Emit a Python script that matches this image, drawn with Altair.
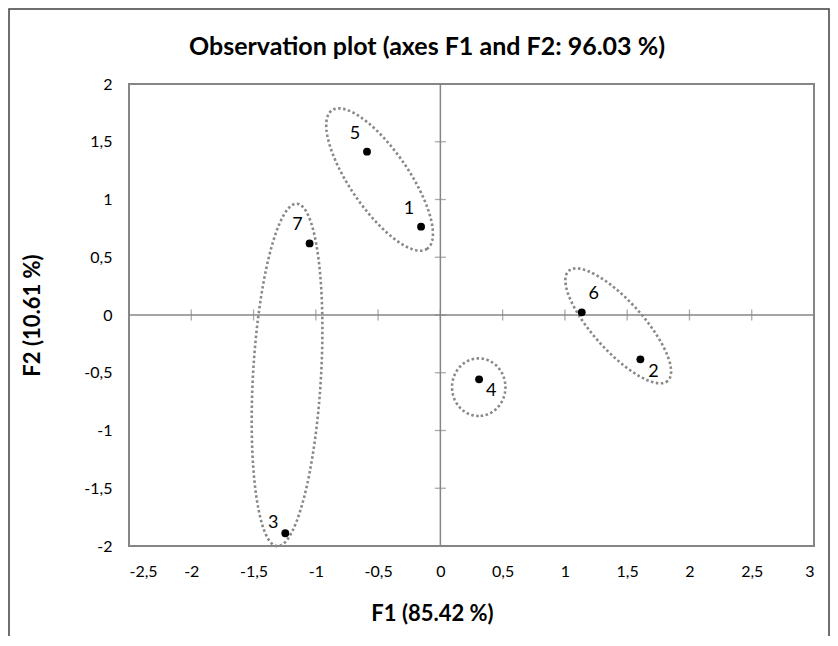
import altair as alt
import numpy as np
import pandas as pd

# ---- data ----
obs = ["1", "2", "3", "4", "5", "6", "7"]
f1 = [-0.155, 1.606, -1.245, 0.311, -0.589, 1.135, -1.05]
f2 = [0.765, -0.384, -1.89, -0.557, 1.414, 0.023, 0.62]

x_ticks = [-2.5, -2, -1.5, -1, -0.5, 0, 0.5, 1, 1.5, 2, 2.5, 3]
y_ticks = [-2, -1.5, -1, -0.5, 0, 0.5, 1, 1.5, 2]

chart_title = ["Observation plot (axes F1 and F2: 96.03 %)"]

# grouping ellipses (annotations): centre in data units
ell_name = ["1-5", "3-7", "4", "2-6"]
ell_cx = [-0.488, -1.231, 0.308, 1.428]
ell_cy = [1.173, -0.519, -0.625, -0.094]

# ---- layout / style ----
W, H = 685, 462
XD, YD = [-2.5, 3], [-2, 2]
PX = W / (XD[1] - XD[0])
PY = H / (YD[1] - YD[0])
FONT = "Lato"
GRAY = "#868686"

# ellipse shape in screen pixels: semi-axes and rotation (deg, y down)
ell_a = [84, 171.5, 28.8, 74]
ell_b = [29.3, 34, 26.7, 25]
ell_ang = [55.5, 93.3, 90, 48]

rows = []
phi = np.linspace(0, 2 * np.pi, 181)
for n, cx, cy, a, b, t in zip(ell_name, ell_cx, ell_cy, ell_a, ell_b, ell_ang):
    th = np.radians(t)
    px = a * np.cos(phi) * np.cos(th) - b * np.sin(phi) * np.sin(th)
    py = a * np.cos(phi) * np.sin(th) + b * np.sin(phi) * np.cos(th)
    for i, (u, v) in enumerate(zip(px, py)):
        rows.append({"ell": n, "i": i, "x": cx + u / PX, "y": cy - v / PY})
ell_df = pd.DataFrame(rows)

# label offsets (pixels)
lab_off = {"1": (-12, -18), "2": (13, 13), "3": (-12, -10), "4": (12, 12),
           "5": (-12, -18), "6": (12, -18), "7": (-12, -18)}
pts = pd.DataFrame({"obs": obs, "F1": f1, "F2": f2})
pts["lx"] = [x + lab_off[o][0] / PX for o, x in zip(obs, f1)]
pts["ly"] = [y - lab_off[o][1] / PY for o, y in zip(obs, f2)]

xs = alt.Scale(domain=XD, nice=False, zero=False)
ys = alt.Scale(domain=YD, nice=False, zero=False)

label_expr = "replace(toString(datum.value), '.', ',')"
xaxis = alt.Axis(values=x_ticks, labelExpr=label_expr, grid=False, domain=False,
                 ticks=False, labelPadding=17, labelFontSize=16, labelFont=FONT,
                 labelColor="#000", title="F1 (85.42 %)", titleFont=FONT,
                 titleFontSize=22, titleFontWeight="bold", titleColor="#000",
                 titleX=303, titleY=67, titleBaseline="middle", titleAlign="center")
yaxis = alt.Axis(values=y_ticks, labelExpr=label_expr, grid=False, domain=False,
                 ticks=False, labelPadding=17, labelFontSize=16, labelFont=FONT,
                 labelColor="#000", title="F2 (10.61 %)", titleFont=FONT,
                 titleFontSize=22, titleFontWeight="bold", titleColor="#000",
                 titleX=-97, titleY=231, titleAngle=270, titleBaseline="middle",
                 titleAlign="center")

base = alt.Chart(pts)

points = base.mark_circle(size=62, color="black", opacity=1).encode(
    x=alt.X("F1:Q", scale=xs, axis=xaxis),
    y=alt.Y("F2:Q", scale=ys, axis=yaxis),
)
labels = base.mark_text(font=FONT, fontSize=18, color="black", align="center",
                        baseline="middle").encode(
    x=alt.X("lx:Q", scale=xs), y=alt.Y("ly:Q", scale=ys), text="obs:N")

zero_df = pd.DataFrame({"v": [0]})
vline = alt.Chart(zero_df).mark_rule(color=GRAY, strokeWidth=1.5).encode(
    x=alt.X("v:Q", scale=xs))
hline = alt.Chart(zero_df).mark_rule(color=GRAY, strokeWidth=1.5).encode(
    y=alt.Y("v:Q", scale=ys))

xt = alt.Chart(pd.DataFrame({"t": x_ticks, "z": 0})).mark_tick(
    orient="vertical", size=11, thickness=1.3, color=GRAY).encode(
    x=alt.X("t:Q", scale=xs), y=alt.Y("z:Q", scale=ys))
yt = alt.Chart(pd.DataFrame({"t": y_ticks, "z": 0})).mark_tick(
    orient="horizontal", size=11, thickness=1.3, color=GRAY).encode(
    y=alt.Y("t:Q", scale=ys), x=alt.X("z:Q", scale=xs))

ellipses = alt.Chart(ell_df).mark_line(
    color="#888888", strokeWidth=2.6, strokeDash=[2.5, 2.5], strokeCap="butt"
).encode(x=alt.X("x:Q", scale=xs), y=alt.Y("y:Q", scale=ys),
         detail="ell:N", order="i:Q")

frame = alt.Chart(zero_df).mark_rect(filled=False, stroke="#404040",
                                     strokeWidth=1.5).encode(
    x=alt.value(-120), x2=alt.value(700), y=alt.value(-75), y2=alt.value(700))

title = alt.Chart(pd.DataFrame({"t": chart_title})).mark_text(
    font=FONT, fontSize=25, fontWeight="bold", color="#000", align="center",
    baseline="middle").encode(text="t:N", x=alt.value(298), y=alt.value(-37))

chart = alt.layer(frame, vline, hline, xt, yt, ellipses, points, labels, title).properties(
    width=W, height=H,
    autosize=alt.AutoSizeParams(type="none"),
    padding={"left": 121, "top": 76, "right": 16, "bottom": 90},
).configure_view(stroke=GRAY, strokeWidth=2).configure_axis(grid=False)

chart.save("out.html", embed_options={"renderer": "svg", "actions": False})
